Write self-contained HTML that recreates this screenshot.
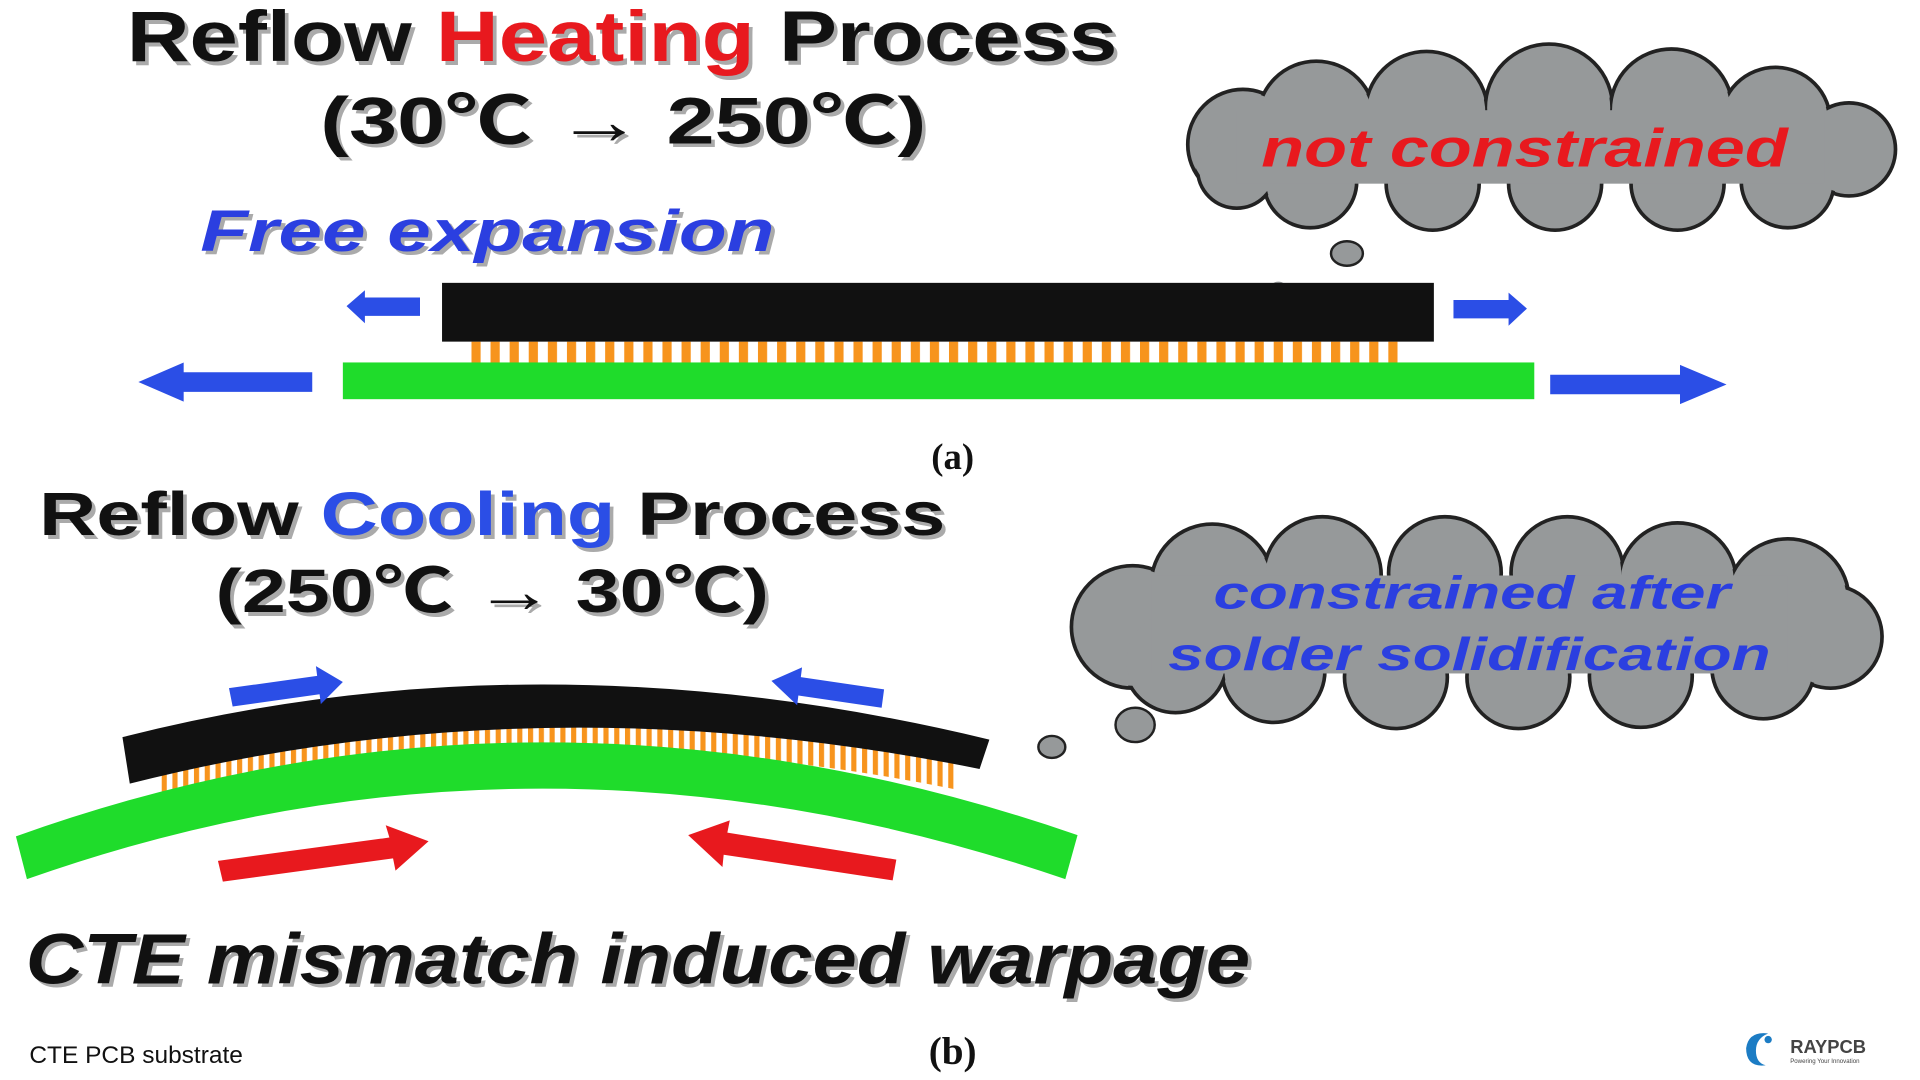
<!DOCTYPE html>
<html><head><meta charset="utf-8"><style>
html,body{margin:0;padding:0;background:#fff;width:1920px;height:1080px;overflow:hidden}
svg{display:block}
text{font-family:"Liberation Sans","Noto Sans CJK SC",sans-serif}
</style></head><body>
<svg width="1920" height="1080" viewBox="0 0 1568 882" xmlns="http://www.w3.org/2000/svg">
<defs>
<pattern id="p1" x="385" y="0" width="15.6" height="20" patternUnits="userSpaceOnUse"><rect x="0" y="0" width="7.5" height="20" fill="#f7941d"/></pattern>
<pattern id="p2" x="132" y="0" width="8.8" height="200" patternUnits="userSpaceOnUse"><rect x="0" y="0" width="4.2" height="200" fill="#f7941d"/></pattern>
</defs>
<rect width="1568" height="882" fill="#fff"/>

<g font-weight="bold">
<text x="511" y="53" font-size="58" text-anchor="middle" fill="#aaa" textLength="809" lengthAdjust="spacingAndGlyphs">Reflow Heating Process</text>
<text x="508" y="50" font-size="58" text-anchor="middle" textLength="809" lengthAdjust="spacingAndGlyphs"><tspan fill="#111">Reflow </tspan><tspan fill="#e8191e">Heating</tspan><tspan fill="#111"> Process</tspan></text>
<text x="512" y="120" font-size="54" text-anchor="middle" fill="#aaa" textLength="495" lengthAdjust="spacingAndGlyphs">(30℃ → 250℃)</text>
<text x="509" y="117" font-size="54" text-anchor="middle" fill="#111" textLength="495" lengthAdjust="spacingAndGlyphs">(30℃ → 250℃)</text>
<text x="401" y="208" font-size="48" font-style="italic" text-anchor="middle" fill="#aaa" textLength="469" lengthAdjust="spacingAndGlyphs">Free expansion</text>
<text x="398" y="205" font-size="48" font-style="italic" text-anchor="middle" fill="#2b3fe0" textLength="469" lengthAdjust="spacingAndGlyphs">Free expansion</text>
</g>

<g stroke="#222" stroke-width="3" fill="#96999a">
<circle cx="1015" cy="118" r="45"/><circle cx="1075" cy="98" r="48"/><circle cx="1165" cy="92" r="50"/><circle cx="1265" cy="88" r="52"/><circle cx="1365" cy="90" r="50"/><circle cx="1450" cy="100" r="45"/><circle cx="1510" cy="122" r="38"/><circle cx="1460" cy="148" r="38"/><circle cx="1370" cy="150" r="38"/><circle cx="1270" cy="150" r="38"/><circle cx="1170" cy="150" r="38"/><circle cx="1070" cy="148" r="38"/><circle cx="1010" cy="138" r="32"/>
</g>
<g fill="#96999a">
<circle cx="1015" cy="118" r="43"/><circle cx="1075" cy="98" r="46"/><circle cx="1165" cy="92" r="48"/><circle cx="1265" cy="88" r="50"/><circle cx="1365" cy="90" r="48"/><circle cx="1450" cy="100" r="43"/><circle cx="1510" cy="122" r="36"/><circle cx="1460" cy="148" r="36"/><circle cx="1370" cy="150" r="36"/><circle cx="1270" cy="150" r="36"/><circle cx="1170" cy="150" r="36"/><circle cx="1070" cy="148" r="36"/><circle cx="1010" cy="138" r="30"/>
<rect x="1010" y="90" width="480" height="60"/>
</g>
<text x="1245" y="136" font-size="44" font-weight="bold" font-style="italic" text-anchor="middle" fill="#e8191e" textLength="430" lengthAdjust="spacingAndGlyphs">not constrained</text>
<ellipse cx="1100" cy="207" rx="13" ry="10" fill="#96999a" stroke="#222" stroke-width="2"/>
<ellipse cx="1044" cy="236" rx="7" ry="6" fill="#96999a"/>

<rect x="385" y="279" width="762" height="18" fill="url(#p1)"/>
<rect x="361" y="231" width="810" height="48" fill="#111"/>
<rect x="280" y="296" width="973" height="30" fill="#1fdc2b"/>
<g fill="#2b4ee6">
<polygon points="283,250 298,237 298,243 343,243 343,258 298,258 298,264"/>
<polygon points="1247,252 1232,239 1232,245 1187,245 1187,260 1232,260 1232,266"/>
<polygon points="113,312 150,296 150,304 255,304 255,320 150,320 150,328"/>
<polygon points="1410,314 1372,298 1372,306 1266,306 1266,322 1372,322 1372,330"/>
</g>
<text x="778" y="383" font-size="30" font-weight="bold" text-anchor="middle" fill="#111" style="font-family:'Liberation Serif',serif">(a)</text>

<g font-weight="bold">
<text x="405" y="440" font-size="50" text-anchor="middle" fill="#aaa" textLength="740" lengthAdjust="spacingAndGlyphs">Reflow Cooling Process</text>
<text x="402" y="437" font-size="50" text-anchor="middle" textLength="740" lengthAdjust="spacingAndGlyphs"><tspan fill="#111">Reflow </tspan><tspan fill="#2b4ee6">Cooling</tspan><tspan fill="#111"> Process</tspan></text>
<text x="405" y="503" font-size="50" text-anchor="middle" fill="#aaa" textLength="452" lengthAdjust="spacingAndGlyphs">(250℃ → 30℃)</text>
<text x="402" y="500" font-size="50" text-anchor="middle" fill="#111" textLength="452" lengthAdjust="spacingAndGlyphs">(250℃ → 30℃)</text>
</g>

<g stroke="#222" stroke-width="3" fill="#96999a">
<circle cx="925" cy="512" r="50"/><circle cx="990" cy="478" r="50"/><circle cx="1080" cy="470" r="48"/><circle cx="1180" cy="468" r="46"/><circle cx="1280" cy="468" r="46"/><circle cx="1370" cy="475" r="48"/><circle cx="1460" cy="490" r="50"/><circle cx="1495" cy="520" r="42"/><circle cx="1440" cy="545" r="42"/><circle cx="1340" cy="552" r="42"/><circle cx="1240" cy="553" r="42"/><circle cx="1140" cy="553" r="42"/><circle cx="1040" cy="548" r="42"/><circle cx="960" cy="540" r="42"/>
</g>
<g fill="#96999a">
<circle cx="925" cy="512" r="48"/><circle cx="990" cy="478" r="48"/><circle cx="1080" cy="470" r="46"/><circle cx="1180" cy="468" r="44"/><circle cx="1280" cy="468" r="44"/><circle cx="1370" cy="475" r="46"/><circle cx="1460" cy="490" r="48"/><circle cx="1495" cy="520" r="40"/><circle cx="1440" cy="545" r="40"/><circle cx="1340" cy="552" r="40"/><circle cx="1240" cy="553" r="40"/><circle cx="1140" cy="553" r="40"/><circle cx="1040" cy="548" r="40"/><circle cx="960" cy="540" r="40"/>
<rect x="940" y="470" width="520" height="80"/>
</g>
<g font-size="38" font-weight="bold" font-style="italic" text-anchor="middle" fill="#2b3fe0">
<text x="1202" y="497" textLength="422" lengthAdjust="spacingAndGlyphs">constrained after</text>
<text x="1200" y="547" textLength="492" lengthAdjust="spacingAndGlyphs">solder solidification</text>
</g>
<ellipse cx="927" cy="592" rx="16" ry="14" fill="#96999a" stroke="#222" stroke-width="2"/>
<ellipse cx="859" cy="610" rx="11" ry="9" fill="#96999a" stroke="#222" stroke-width="2"/>

<path d="M132,652 L132,625 Q440,540 782,615 L782,645 Q440,575 132,660 Z" fill="url(#p2)"/>
<path d="M13,683 Q440,530 880,682 L870,718 Q440,570 22,718 Z" fill="#1fdc2b"/>
<path d="M100,602 Q440,515 808,604 L800,628 Q440,555 106,640 Z" fill="#111"/>
<g fill="#2b4ee6">
<polygon points="280,557 258,544 259,552 187,562 190,577 261,567 262,575"/>
<polygon points="630,556 655,545 654,553 722,563 720,578 652,568 651,576"/>
</g>
<g fill="#e8191e">
<polygon points="350,687 315,674 318,684 178,703 182,720 321,701 323,711"/>
<polygon points="562,682 596,670 594,680 732,702 729,719 591,698 590,708"/>
</g>
<text x="524" y="806" font-size="58" font-weight="bold" font-style="italic" text-anchor="middle" fill="#aaa" textLength="1000" lengthAdjust="spacingAndGlyphs">CTE mismatch induced warpage</text>
<text x="521" y="803" font-size="58" font-weight="bold" font-style="italic" text-anchor="middle" fill="#111" textLength="1000" lengthAdjust="spacingAndGlyphs">CTE mismatch induced warpage</text>
<text x="778" y="869" font-size="32" font-weight="bold" text-anchor="middle" fill="#111" style="font-family:'Liberation Serif',serif">(b)</text>
<text x="24" y="868" font-size="20" fill="#111">CTE PCB substrate</text>

<g transform="translate(1422,840)">
<path d="M4,16 Q6,2 22,4 Q12,8 12,18 Q12,28 20,30 Q4,32 4,16 Z" fill="#1c7cc4"/>
<circle cx="22" cy="9" r="3" fill="#1c7cc4"/>
<text x="40" y="20" font-size="15" font-weight="bold" fill="#444">RAYPCB</text>
<text x="40" y="28" font-size="5" fill="#444">Powering Your Innovation</text>
</g>
</svg>
</body></html>
